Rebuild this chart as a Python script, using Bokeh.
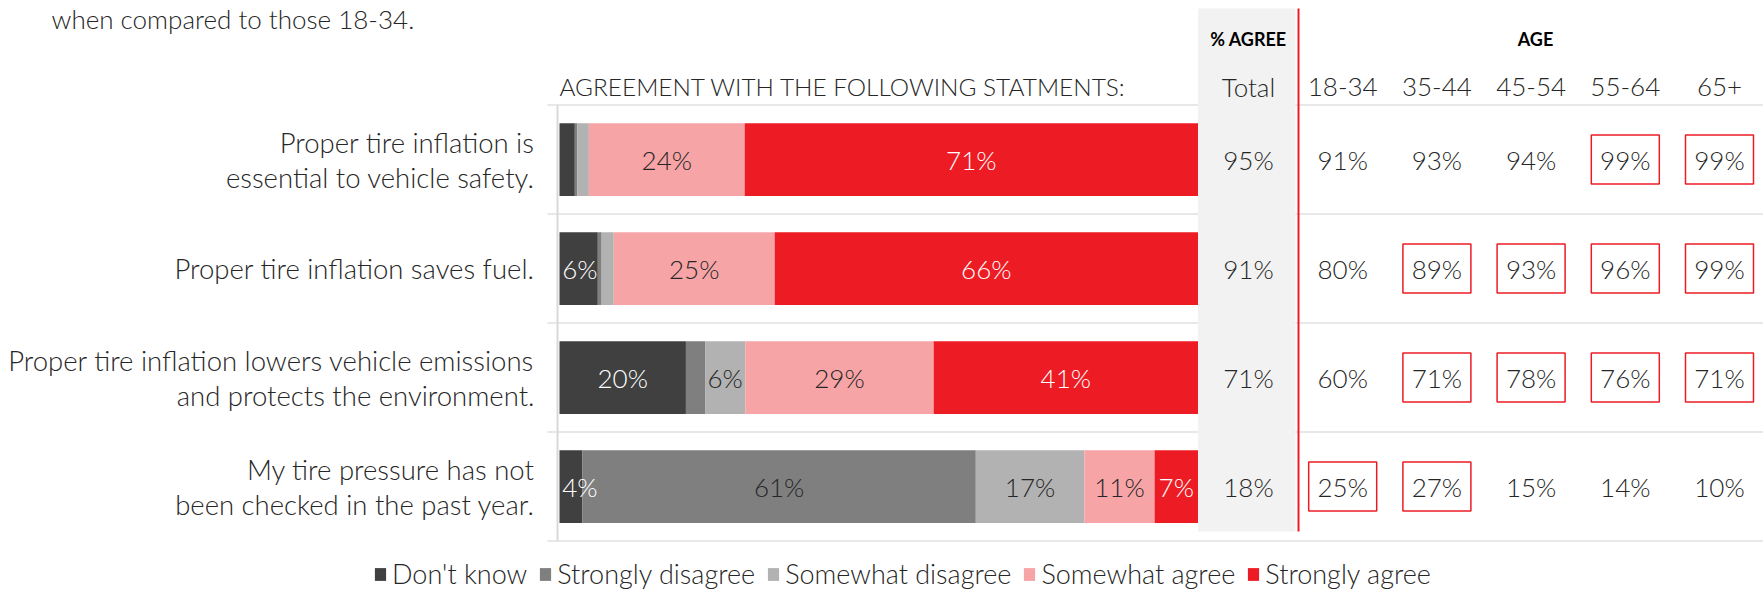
import numpy as np
from bokeh.plotting import figure
from bokeh.models import Range1d, ColumnDataSource, Legend, LegendItem
from bokeh.core.properties import value
from bokeh.embed import file_html
from bokeh.resources import INLINE

# ---------------- data ----------------
statements = [
    "Proper tire inflation is\nessential to vehicle safety.",
    "Proper tire inflation saves fuel.",
    "Proper tire inflation lowers vehicle emissions\nand protects the environment.",
    "My tire pressure has not\nbeen checked in the past year.",
]
series_names = ["Don't know", "Strongly disagree", "Somewhat disagree",
                "Somewhat agree", "Strongly agree"]
dont_know = [2.4, 6.0, 19.8, 3.6]
strongly_disagree = [0.4, 0.6, 3.0, 61.6]
somewhat_disagree = [1.8, 1.9, 6.3, 17.0]
somewhat_agree = [24.4, 25.2, 29.5, 11.0]
strongly_agree = [71.0, 66.3, 41.4, 6.8]
# data labels as printed on the bars ("" = not shown)
lbl_dont_know = ["", "6%", "20%", "4%"]
lbl_strongly_disagree = ["", "", "", "61%"]
lbl_somewhat_disagree = ["", "", "6%", "17%"]
lbl_somewhat_agree = ["24%", "25%", "29%", "11%"]
lbl_strongly_agree = ["71%", "66%", "41%", "7%"]

table_columns = ["Total", "18-34", "35-44", "45-54", "55-64", "65+"]
total_agree = [95, 91, 71, 18]
age_18_34 = [91, 80, 60, 25]
age_35_44 = [93, 89, 71, 27]
age_45_54 = [94, 93, 78, 15]
age_55_64 = [99, 96, 76, 14]
age_65_plus = [99, 99, 71, 10]
# boxed cells (significantly higher)
sig_total = [False, False, False, False]
sig_18_34 = [False, False, False, True]
sig_35_44 = [False, True, True, True]
sig_45_54 = [False, True, True, False]
sig_55_64 = [True, True, True, False]
sig_65_plus = [True, True, True, False]

subtitle = "when compared to those 18-34."
bar_header = "AGREEMENT WITH THE FOLLOWING STATMENTS:"
agree_header = "% AGREE"
age_header = "AGE"

# ---------------- styles / layout ----------------
W, H = 1763, 590
BAR_L, BAR_R = 559.0, 1197.5
ROW0, ROW_H = 159.1, 109.0
COL0, COL_W = 1248.0, 94.2
FONT_NAME = "Lato Light, Lato"
FONT = value(FONT_NAME)
BOLD_FONT = value("Lato")
TXT = "#262626"
series_colors = ["#404040", "#7f7f7f", "#b2b2b2", "#f7a4a7", "#ed1c24"]
label_colors = ["white", TXT, TXT, TXT, "white"]
RED = "#ed1c24"
MIN_LABEL_X = 3.2  # keep first label inside the plot area


def ux(px):
    return (px - BAR_L) / (BAR_R - BAR_L) * 100.0


def uy(py):
    return (py - ROW0) / ROW_H


def ut(px):
    return (px - COL0) / COL_W


p = figure(width=W, height=H, x_range=Range1d(ux(0), ux(W)),
           y_range=Range1d(uy(H), uy(0)), output_backend="svg",
           toolbar_location=None, x_axis_location=None, y_axis_location=None,
           min_border=0, title=None)
p.extra_x_ranges = {"tbl": Range1d(ut(0), ut(W))}
p.grid.visible = False
p.outline_line_color = None
p.background_fill_color = "white"
p.border_fill_color = "white"

n_rows = len(statements)
rows = np.arange(n_rows)

# row separator lines
bounds = np.arange(n_rows + 1) - 0.5
p.segment(x0=[ux(547)] * len(bounds), x1=[ux(W)] * len(bounds), y0=bounds, y1=bounds,
          line_color="#e8e8e8", line_width=2)
# category axis line
p.segment(x0=[ux(557)], x1=[ux(557)], y0=[bounds[0]], y1=[bounds[-1]],
          line_color="#d9d9d9", line_width=2)

# % agree panel and divider
p.quad(left=[ut(1197.5)], right=[ut(1295)], top=[uy(8)], bottom=[uy(531)],
       fill_color="#f2f2f2", line_color=None, x_range_name="tbl")
p.segment(x0=[ut(1298)], x1=[ut(1298)], y0=[uy(8)], y1=[uy(531)],
          line_color=RED, line_width=2, x_range_name="tbl")

# stacked bars
series = [dont_know, strongly_disagree, somewhat_disagree, somewhat_agree, strongly_agree]
labels = [lbl_dont_know, lbl_strongly_disagree, lbl_somewhat_disagree,
          lbl_somewhat_agree, lbl_strongly_agree]
cum = np.zeros(n_rows)
legend_items = []
lx, ly, lt, lc = [], [], [], []
for vals, lbls, col, lcol, name in zip(series, labels, series_colors, label_colors, series_names):
    v = np.array(vals, dtype=float)
    r = p.hbar(y=rows, left=cum, right=cum + v, height=0.667,
               fill_color=col, line_color=None)
    legend_items.append(LegendItem(label=name, renderers=[r]))
    for i in range(n_rows):
        if lbls[i]:
            lx.append(max(cum[i] + v[i] / 2, MIN_LABEL_X))
            ly.append(i)
            lt.append(lbls[i])
            lc.append(lcol)
    cum = cum + v
p.text(x="x", y="y", text="t", text_color="c",
       source=ColumnDataSource(dict(x=lx, y=ly, t=lt, c=lc)),
       text_font=FONT, text_font_size="26px", text_align="center",
       text_baseline="middle")

# category labels (right aligned)
cx, cy, ct = [], [], []
LINE = 35.0 / ROW_H
for i, s in enumerate(statements):
    parts = s.split("\n")
    for j, part in enumerate(parts):
        cx.append(ux(534))
        cy.append(i + (j - (len(parts) - 1) / 2) * LINE)
        ct.append(part)
p.text(x=cx, y=cy, text=ct, text_font=FONT, text_font_size="27.5px",
       text_color=TXT, text_align="right", text_baseline="middle")

# headers
p.text(x=[ux(51)], y=[uy(18)], text=[subtitle], text_font=FONT,
       text_font_size="26px", text_color=TXT, text_align="left", text_baseline="middle")
p.text(x=[ux(559)], y=[uy(86)], text=[bar_header], text_font=FONT,
       text_font_size="24.4px", text_color=TXT, text_align="left", text_baseline="middle")
p.text(x=[0, ut(1535)], y=[uy(38), uy(38)], text=[agree_header, age_header],
       text_font=BOLD_FONT, text_font_size="18px", text_font_style="bold",
       text_color="black", text_align="center", text_baseline="middle",
       x_range_name="tbl")
p.text(x=list(range(len(table_columns))), y=[uy(86)] * len(table_columns),
       text=table_columns, text_font=FONT, text_font_size="26px", text_color=TXT,
       text_align="center", text_baseline="middle", x_range_name="tbl")

# table values
table_vals = [total_agree, age_18_34, age_35_44, age_45_54, age_55_64, age_65_plus]
table_sig = [sig_total, sig_18_34, sig_35_44, sig_45_54, sig_55_64, sig_65_plus]
tx, ty, tt, bx, by = [], [], [], [], []
for c, (vals, sig) in enumerate(zip(table_vals, table_sig)):
    for i in range(n_rows):
        tx.append(c)
        ty.append(i)
        tt.append(f"{vals[i]}%")
        if sig[i]:
            bx.append(c)
            by.append(i)
p.rect(x=bx, y=by, width=68 / COL_W, height=49 / ROW_H, fill_color=None,
       line_color=RED, line_width=1.5, x_range_name="tbl")
p.text(x=tx, y=ty, text=tt, text_font=FONT, text_font_size="26px", text_color=TXT,
       text_align="center", text_baseline="middle", x_range_name="tbl")

legend = Legend(items=legend_items, orientation="horizontal", location=(373, 0),
                glyph_width=14, glyph_height=16, label_standoff=5, spacing=11,
                padding=0, margin=0, border_line_color=None, background_fill_alpha=0,
                label_text_font=FONT_NAME, label_text_font_size="27px",
                label_text_color=TXT)
p.add_layout(legend)

open("out.html", "w").write(file_html(p, INLINE))
